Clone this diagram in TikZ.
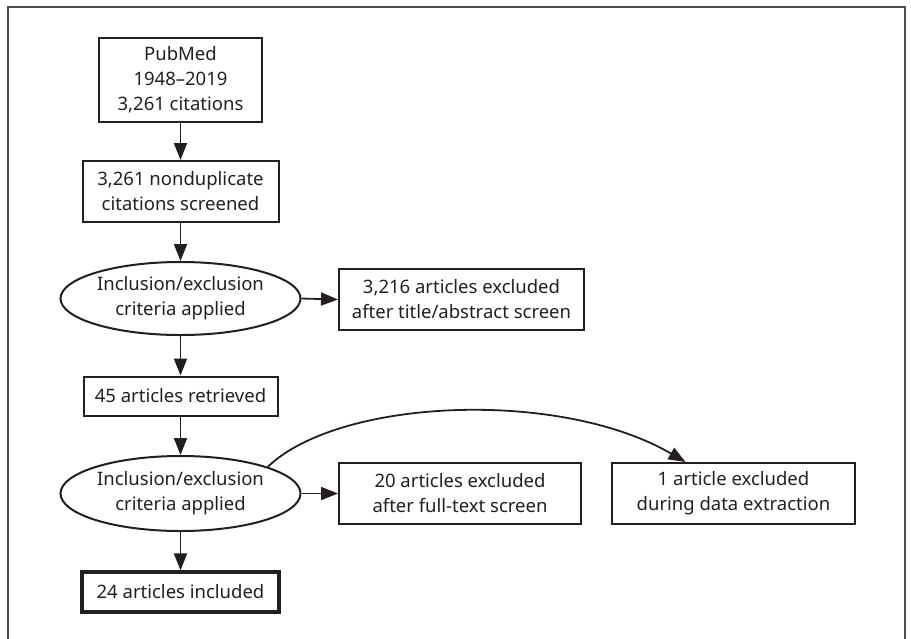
\documentclass[tikz,border=0pt]{standalone}
\usepackage{fontspec}
\setmainfont{Noto Sans}
\usetikzlibrary{arrows.meta,shapes.geometric,calc}
\definecolor{ink}{HTML}{231F20}
\tikzset{
  box/.style={draw=ink, line width=2pt, rectangle, align=center, text=ink, inner sep=0pt,
    font=\fontsize{18.5}{25}\selectfont},
  oval/.style={draw=ink, line width=2pt, ellipse, align=center, text=ink, inner sep=0pt,
    font=\fontsize{18.5}{25}\selectfont},
  arr/.style={draw=ink, line width=1.8pt, -{Triangle[length=17pt,width=13pt]}},
}
\begin{document}
\begin{tikzpicture}[x=1pt,y=-1pt]
\useasboundingbox (0,0) rectangle (911,638);
\draw[ink!80, line width=1.6pt] (8,640) -- (8,7) -- (905,7) -- (905,640);

\node[box, minimum width=163pt, minimum height=84pt] (b1) at (180.5,80) {PubMed\\1948–2019\\3,261 citations};
\node[box, minimum width=196pt, minimum height=61pt] (b2) at (180.5,191.5) {3,261 nonduplicate\\citations screened};
\node[oval, minimum width=240pt, minimum height=73pt] (e1) at (180.5,298.5) {Inclusion/exclusion\\criteria applied};
\node[box, minimum width=245pt, minimum height=61pt] (b3) at (461.5,299.5) {3,216 articles excluded\\after title/abstract screen};
\node[box, minimum width=194pt, minimum height=39pt] (b4) at (180.5,396) {45 articles retrieved};
\node[oval, minimum width=240pt, minimum height=75pt] (e2) at (180.5,493.5) {Inclusion/exclusion\\criteria applied};
\node[box, minimum width=242pt, minimum height=61pt] (b5) at (460,493.5) {20 articles excluded\\after full-text screen};
\node[box, minimum width=243pt, minimum height=61pt] (b6) at (733.5,493.5) {1 article excluded\\during data extraction};
\node[box, line width=3.2pt, minimum width=197pt, minimum height=40pt] (b7) at (180.5,592) {24 articles included};

\coordinate (c6) at ($(b6.north)+(-48,0)$);

\draw[arr] (b1.south) -- (b2.north);
\draw[arr] (b2.south) -- (e1.north);
\draw[arr] (e1.east) -- (b3.west);
\draw[arr] (e1.south) -- (b4.north);
\draw[arr] (b4.south) -- (e2.north);
\draw[arr] (e2.east) -- (b5.west);
\draw[arr] (e2.south) -- (b7.north);
\draw[arr] (e2.17) .. controls +(72,-69) and +(-125,-73) .. (c6);
\end{tikzpicture}
\end{document}
